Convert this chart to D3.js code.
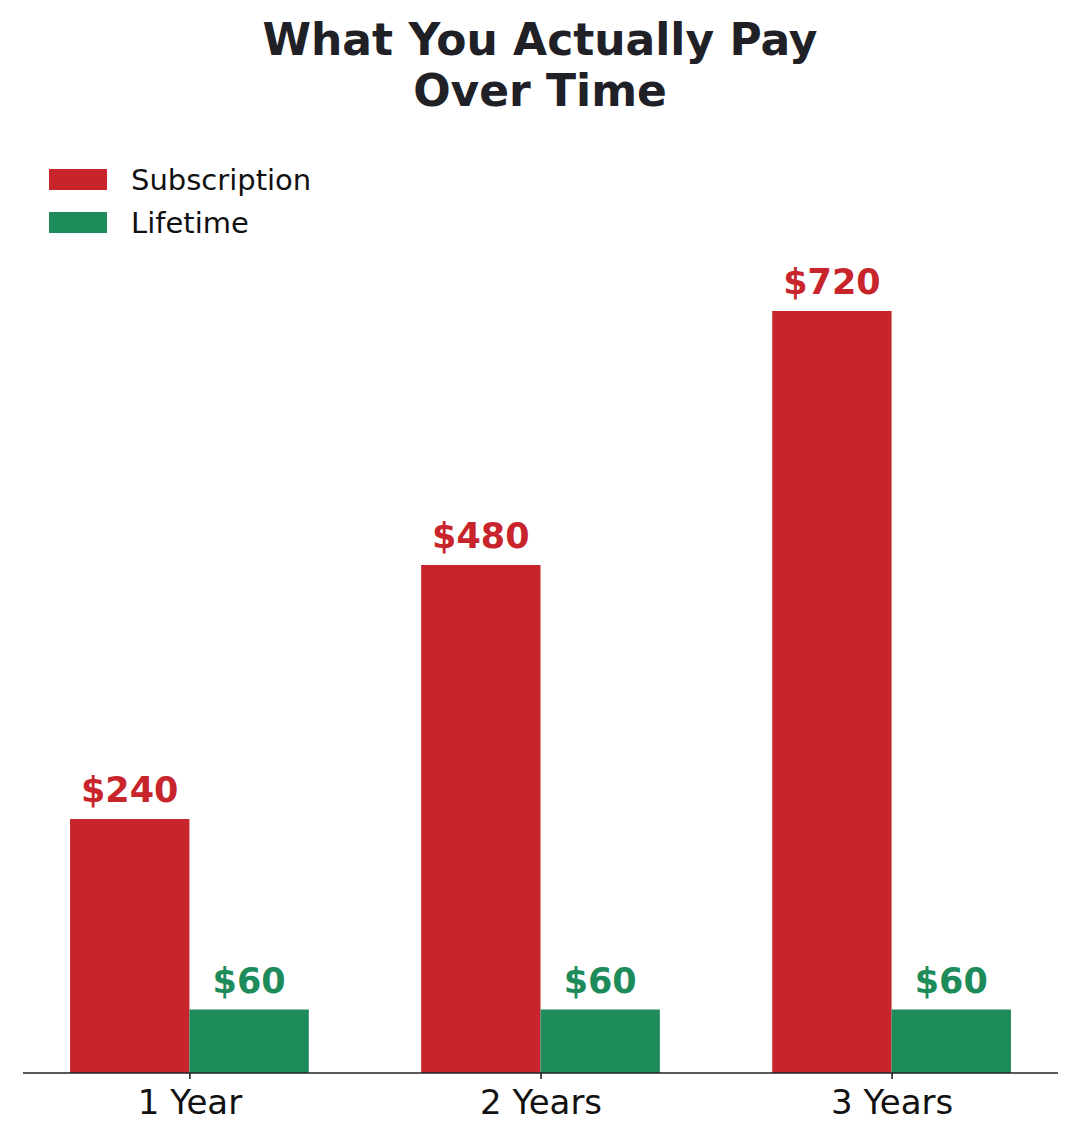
<!DOCTYPE html>
<html><head><meta charset="utf-8">
<script src="https://cdn.jsdelivr.net/npm/d3@7"></script>
<style>body{margin:0;background:#fff}svg{display:block}</style>
</head><body><div id="chart"></div>
<script>
const categories = ["1 Year", "2 Years", "3 Years"];
const seriesNames = ["Subscription", "Lifetime"];
const subscription = [240, 480, 720];
const lifetime = [60, 60, 60];
const valueLabels = [["$240", "$480", "$720"], ["$60", "$60", "$60"]];
const colors = ["#c8242c", "#1e8b5a"];

const W = 1080, H = 1140;
const svg = d3.select("#chart").append("svg").attr("width", W).attr("height", H)
  .style("font-family", "'DejaVu Sans', sans-serif");

const x = d3.scaleLinear().domain([-0.474, 2.474]).range([23, 1058]);
const y = d3.scaleLinear().domain([0, 720]).range([1073, 311]);
const bw = 0.34;

const series = [subscription, lifetime];
series.forEach((vals, si) => {
  const off = si === 0 ? -bw : 0;
  svg.append("g").selectAll("rect").data(vals).join("rect")
    .attr("x", (d, i) => x(i + off))
    .attr("width", (d, i) => x(i + off + bw) - x(i + off))
    .attr("y", d => y(d))
    .attr("height", d => y(0) - y(d))
    .attr("fill", colors[si]);
  svg.append("g").selectAll("text").data(vals).join("text")
    .attr("x", (d, i) => x(i + off + bw / 2))
    .attr("y", d => y(d) - 17)
    .attr("text-anchor", "middle")
    .attr("font-size", 35).attr("font-weight", "bold")
    .attr("fill", colors[si])
    .text((d, i) => valueLabels[si][i]);
});

// x axis
const axis = d3.axisBottom(x).tickValues([0, 1, 2]).tickFormat(i => categories[i])
  .tickSizeOuter(0).tickSizeInner(6).tickPadding(11);
const gx = svg.append("g").attr("transform", `translate(0,${y(0)})`).call(axis);
gx.select(".domain").attr("stroke", "#222").attr("stroke-width", 1.6).attr("d", `M23,0H1058`);
gx.selectAll(".tick line").attr("stroke", "#222").attr("stroke-width", 1.6);
gx.selectAll(".tick text").attr("font-size", 34).attr("fill", "#111")
  .attr("font-family", "'DejaVu Sans', sans-serif");

// title
const title = svg.append("text").attr("x", 540).attr("text-anchor", "middle")
  .attr("font-size", 44).attr("font-weight", "bold").attr("fill", "#202027");
title.append("tspan").attr("x", 540).attr("y", 55).text("What You Actually Pay");
title.append("tspan").attr("x", 540).attr("y", 106).text("Over Time");

// legend
const lg = svg.append("g");
seriesNames.forEach((n, i) => {
  const yy = 169 + i * 43;
  lg.append("rect").attr("x", 49).attr("y", yy).attr("width", 58).attr("height", 21).attr("fill", colors[i]);
  lg.append("text").attr("x", 131).attr("y", yy + 21).attr("font-size", 29).attr("fill", "#111").text(n);
});
</script></body></html>
